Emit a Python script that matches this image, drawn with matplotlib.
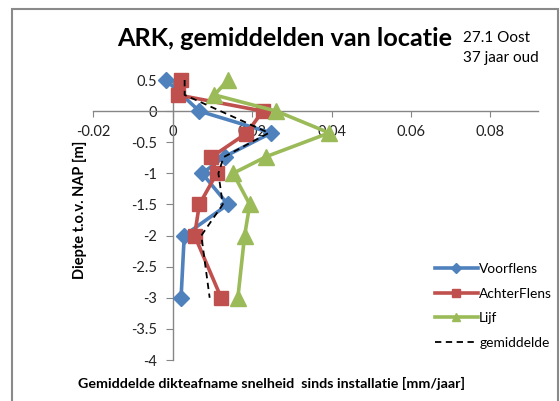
import matplotlib
matplotlib.use("Agg")
import matplotlib.pyplot as plt
from matplotlib.patches import Rectangle

plt.rcParams['font.family'] = ['Lato', 'DejaVu Sans']

# ---- data ----
voor_x = [-0.0017, 0.0067, 0.0248, 0.0131, 0.0074, 0.0139, 0.0029, 0.0021]
voor_y = [0.5, 0.0, -0.35, -0.73, -1.0, -1.5, -2.0, -3.0]

achter_x = [0.0021, 0.0013, 0.0227, 0.0185, 0.0097, 0.0111, 0.0067, 0.0055, 0.0122]
achter_y = [0.5, 0.26, 0.0, -0.36, -0.74, -1.0, -1.5, -2.0, -3.0]

lijf_x = [0.0139, 0.0105, 0.0261, 0.0394, 0.0236, 0.0152, 0.0194, 0.0181, 0.0164]
lijf_y = [0.5, 0.26, 0.0, -0.35, -0.73, -1.0, -1.5, -2.0, -3.0]

gem_x = [0.003, 0.003, 0.0242, 0.0128, 0.0115, 0.0126, 0.0072, 0.0093]
gem_y = [0.5, 0.26, -0.35, -0.74, -1.0, -1.5, -2.0, -3.0]

xticks = [-0.02, 0, 0.02, 0.04, 0.06, 0.08]
xticklabels = ["-0.02", "0", "0.02", "0.04", "0.06", "0.08"]
yticks = [0.5, 0, -0.5, -1, -1.5, -2, -2.5, -3, -3.5, -4]
yticklabels = ["0.5", "0", "-0.5", "-1", "-1.5", "-2", "-2.5", "-3", "-3.5", "-4"]

title = "ARK, gemiddelden van locatie"
subtitle_lines = ["27.1 Oost", "37 jaar oud"]
xlabel = "Gemiddelde dikteafname snelheid  sinds installatie [mm/jaar]"
ylabel = "Diepte t.o.v. NAP [m]"

BLUE = "#4F81BD"
RED = "#C0504D"
GREEN = "#9BBB59"
AXC = "#868686"

W, H = 560, 401
fig = plt.figure(figsize=(W / 100, H / 100), dpi=100)
fig.patch.set_facecolor("white")

# chart border
fig.add_artist(Rectangle((12 / W, -0.05), (558 - 12) / W, (H - 9) / H + 0.05,
                         transform=fig.transFigure, fill=False,
                         edgecolor="#8a8a8a", linewidth=1.5))

ax = fig.add_axes([93.3 / W, (H - 360) / H, (537.7 - 93.3) / W, (360 - 80) / H])
ax.set_xlim(-0.02, 0.0919)
ax.set_ylim(-4, 0.5)

ax.plot(voor_x, voor_y, color=BLUE, lw=2.6, marker='D', ms=8.5, clip_on=False,
        label="Voorflens", zorder=3)
ax.plot(achter_x, achter_y, color=RED, lw=2.6, marker='s', ms=9.5, clip_on=False,
        label="AchterFlens", zorder=3)
ax.plot(lijf_x, lijf_y, color=GREEN, lw=2.6, marker='^', ms=11, clip_on=False,
        label="Lijf", zorder=3)
ax.plot(gem_x, gem_y, color="black", lw=1.3, ls=(0, (3.5, 2.5)), clip_on=False,
        label="gemiddelde", zorder=4)

for s in ["top", "right"]:
    ax.spines[s].set_visible(False)
ax.spines["left"].set_position(("data", 0))
ax.spines["bottom"].set_position(("data", 0))
for s in ["left", "bottom"]:
    ax.spines[s].set_color(AXC)
    ax.spines[s].set_linewidth(1.0)

ax.set_xticks(xticks)
ax.set_xticklabels(xticklabels)
ax.set_yticks(yticks)
ax.set_yticklabels(yticklabels)
ax.tick_params(axis="x", direction="out", length=4, color=AXC, pad=6,
               labelsize=10.5, labelcolor="#222222")
ax.tick_params(axis="y", direction="out", length=5, color=AXC, pad=6,
               labelsize=10.5, labelcolor="#222222")
ax.set_facecolor("none")

leg = ax.legend(loc="upper left", bbox_to_anchor=(428 / W, (H - 256) / H),
                bbox_transform=fig.transFigure, frameon=False,
                fontsize=9.9, handlelength=3.1, handletextpad=0.12,
                labelspacing=0.92, markerscale=0.55, borderpad=0)

fig.text(117 / W, (H - 46) / H, title, fontsize=18.2, fontweight="bold",
         ha="left", va="baseline")
fig.text(463 / W, (H - 42) / H, subtitle_lines[0], fontsize=11, ha="left",
         va="baseline")
fig.text(463 / W, (H - 62) / H, subtitle_lines[1], fontsize=11, ha="left",
         va="baseline")
fig.text(78 / W, (H - 388) / H, xlabel, fontsize=10.3, fontweight="bold",
         ha="left", va="baseline")
fig.text(80 / W, (H - 210) / H, ylabel, fontsize=10.5, fontweight="bold",
         rotation=90, ha="center", va="center")

fig.savefig("out.png", dpi=100)
